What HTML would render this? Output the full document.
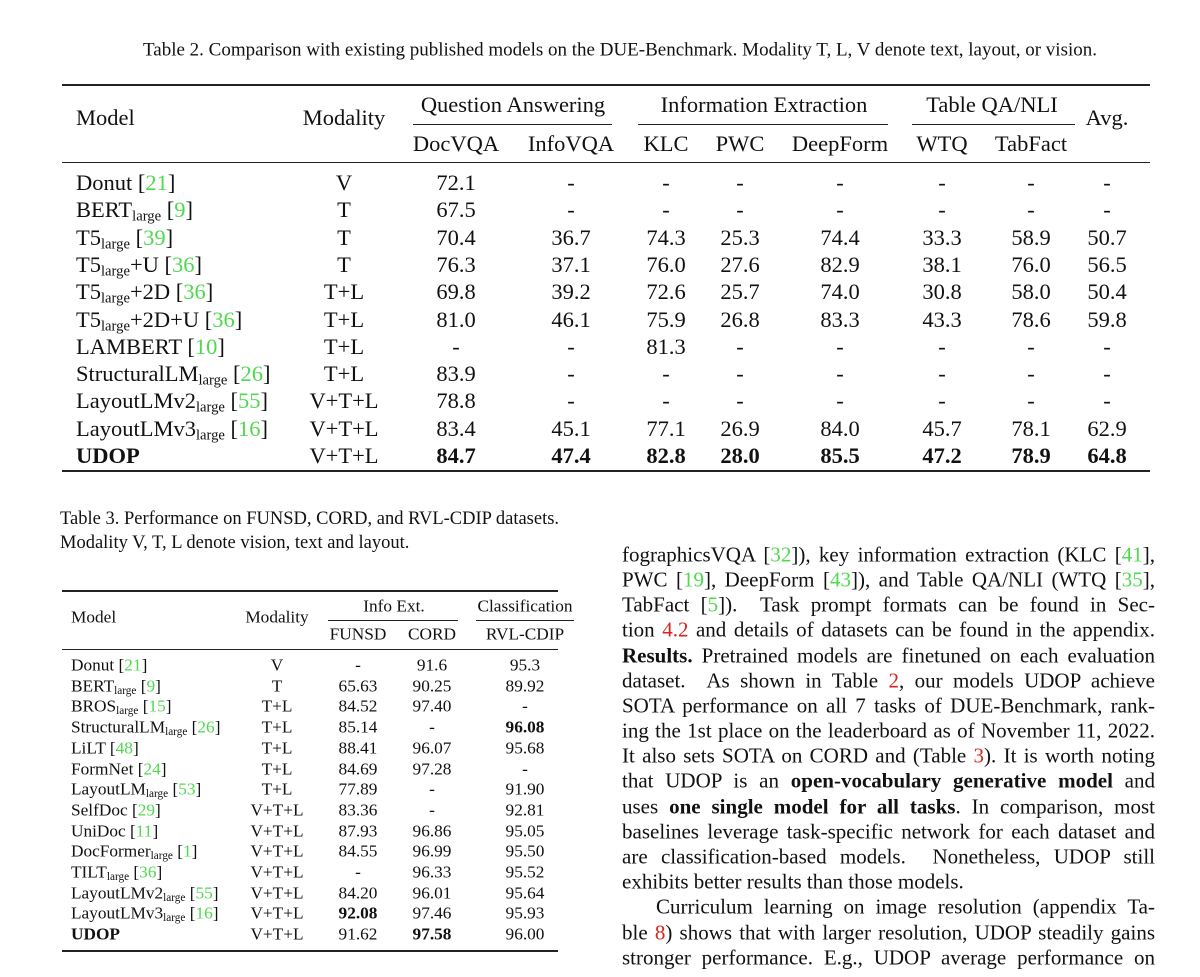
<!DOCTYPE html>
<html><head><meta charset="utf-8"><style>
body{margin:0;width:1200px;height:977px;background:#fff;position:relative;overflow:hidden;font-family:"Liberation Serif",serif;color:#111}
.a{position:absolute;white-space:nowrap;line-height:1}
.c{transform:translate(-50%,-50%)}
.l{transform:translateY(-50%)}
.t2{font-size:22.5px}
.t3{font-size:17.3px}
.g{color:#4fd94f}
.r{color:#d8241c}
sub{font-size:65%;vertical-align:-0.25em;line-height:0}
.rule{position:absolute;background:#222}
.tx{position:absolute;left:622px;width:533px;font-size:21px;line-height:1;text-align:justify;text-align-last:justify;white-space:nowrap;transform:translateY(-50%)}
b{font-weight:bold}
</style></head><body>

<div class="a c" style="left:620px;top:50px;font-size:19px">Table 2. Comparison with existing published models on the DUE-Benchmark. Modality T, L, V denote text, layout, or vision.</div>

<div class="rule" style="left:62px;top:84px;width:1088px;height:2px"></div>
<div class="rule" style="left:413px;top:124px;width:199px;height:1px"></div>
<div class="rule" style="left:638px;top:124px;width:250px;height:1px"></div>
<div class="rule" style="left:912px;top:124px;width:163px;height:1px"></div>
<div class="rule" style="left:62px;top:162px;width:1088px;height:1px"></div>
<div class="rule" style="left:62px;top:470px;width:1088px;height:2px"></div>

<div class="t2">
<div class="a l" style="left:76px;top:118px">Model</div>
<div class="a c" style="left:344px;top:118px">Modality</div>
<div class="a c" style="left:513px;top:105px">Question Answering</div>
<div class="a c" style="left:764px;top:105px">Information Extraction</div>
<div class="a c" style="left:992px;top:105px">Table QA/NLI</div>
<div class="a c" style="left:1107px;top:118px">Avg.</div>
<div class="a c" style="left:456px;top:144px">DocVQA</div>
<div class="a c" style="left:571px;top:144px">InfoVQA</div>
<div class="a c" style="left:666px;top:144px">KLC</div>
<div class="a c" style="left:740px;top:144px">PWC</div>
<div class="a c" style="left:840px;top:144px">DeepForm</div>
<div class="a c" style="left:942px;top:144px">WTQ</div>
<div class="a c" style="left:1031px;top:144px">TabFact</div>
</div>

<div class="t2" id="t2body"></div>

<div class="a l" style="left:60px;top:519px;font-size:18.5px">Table 3. Performance on FUNSD, CORD, and RVL-CDIP datasets.</div>
<div class="a l" style="left:60px;top:543px;font-size:18.5px">Modality V, T, L denote vision, text and layout.</div>

<div class="rule" style="left:62px;top:590px;width:496px;height:2px"></div>
<div class="rule" style="left:328px;top:620px;width:130px;height:1px"></div>
<div class="rule" style="left:476px;top:620px;width:98px;height:1px"></div>
<div class="rule" style="left:62px;top:649px;width:496px;height:1px"></div>
<div class="rule" style="left:62px;top:950px;width:496px;height:2px"></div>

<div class="t3">
<div class="a l" style="left:71px;top:617px">Model</div>
<div class="a c" style="left:277px;top:617px">Modality</div>
<div class="a c" style="left:394px;top:606px">Info Ext.</div>
<div class="a c" style="left:525px;top:606px">Classification</div>
<div class="a c" style="left:358px;top:634px">FUNSD</div>
<div class="a c" style="left:432px;top:634px">CORD</div>
<div class="a c" style="left:525px;top:634px">RVL-CDIP</div>
</div>
<div class="t3" id="t3body"></div>

<div class="tx" style="top:555px">fographicsVQA [<span class="g">32</span>]), key information extraction (KLC [<span class="g">41</span>],</div>
<div class="tx" style="top:580px">PWC [<span class="g">19</span>], DeepForm [<span class="g">43</span>]), and Table QA/NLI (WTQ [<span class="g">35</span>],</div>
<div class="tx" style="top:605px">TabFact [<span class="g">5</span>]). &nbsp;Task prompt formats can be found in Sec-</div>
<div class="tx" style="top:630px">tion <span class="r">4.2</span> and details of datasets can be found in the appendix.</div>
<div class="tx" style="top:656px"><b>Results.</b> Pretrained models are finetuned on each evaluation</div>
<div class="tx" style="top:681px">dataset. &nbsp;As shown in Table <span class="r">2</span>, our models UDOP achieve</div>
<div class="tx" style="top:706px">SOTA performance on all 7 tasks of DUE-Benchmark, rank-</div>
<div class="tx" style="top:731px">ing the 1st place on the leaderboard as of November 11, 2022.</div>
<div class="tx" style="top:756px">It also sets SOTA on CORD and (Table <span class="r">3</span>). It is worth noting</div>
<div class="tx" style="top:781px">that UDOP is an <b>open-vocabulary generative model</b> and</div>
<div class="tx" style="top:807px">uses <b>one single model for all tasks</b>. In comparison, most</div>
<div class="tx" style="top:832px">baselines leverage task-specific network for each dataset and</div>
<div class="tx" style="top:857px">are classification-based models. &nbsp;Nonetheless, UDOP still</div>
<div class="tx" style="top:882px;text-align-last:left">exhibits better results than those models.</div>
<div class="tx" style="top:907px;left:656px;width:499px">Curriculum learning on image resolution (appendix Ta-</div>
<div class="tx" style="top:933px">ble <span class="r">8</span>) shows that with larger resolution, UDOP steadily gains</div>
<div class="tx" style="top:958px">stronger performance. E.g., UDOP average performance on</div>

<script>
function g(s){return s.replace(/\[(\d+)\]/g,'[<span class="g">$1</span>]').replace(/_(\w+)/g,'<sub>$1</sub>');}
var r2=[
["Donut [21]","V","72.1","-","-","-","-","-","-","-"],
["BERT_large [9]","T","67.5","-","-","-","-","-","-","-"],
["T5_large [39]","T","70.4","36.7","74.3","25.3","74.4","33.3","58.9","50.7"],
["T5_large+U [36]","T","76.3","37.1","76.0","27.6","82.9","38.1","76.0","56.5"],
["T5_large+2D [36]","T+L","69.8","39.2","72.6","25.7","74.0","30.8","58.0","50.4"],
["T5_large+2D+U [36]","T+L","81.0","46.1","75.9","26.8","83.3","43.3","78.6","59.8"],
["LAMBERT [10]","T+L","-","-","81.3","-","-","-","-","-"],
["StructuralLM_large [26]","T+L","83.9","-","-","-","-","-","-","-"],
["LayoutLMv2_large [55]","V+T+L","78.8","-","-","-","-","-","-","-"],
["LayoutLMv3_large [16]","V+T+L","83.4","45.1","77.1","26.9","84.0","45.7","78.1","62.9"],
["<b>UDOP</b>","V+T+L","<b>84.7</b>","<b>47.4</b>","<b>82.8</b>","<b>28.0</b>","<b>85.5</b>","<b>47.2</b>","<b>78.9</b>","<b>64.8</b>"]];
var c2=[344,456,571,666,740,840,942,1031,1107],h="";
r2.forEach(function(r,i){var y=183+i*27.3;h+='<div class="a l" style="left:76px;top:'+y+'px">'+g(r[0])+'</div>';
for(var j=1;j<r.length;j++)h+='<div class="a c" style="left:'+c2[j-1]+'px;top:'+y+'px">'+r[j]+'</div>';});
document.getElementById('t2body').innerHTML=h;
var r3=[
["Donut [21]","V","-","91.6","95.3"],
["BERT_large [9]","T","65.63","90.25","89.92"],
["BROS_large [15]","T+L","84.52","97.40","-"],
["StructuralLM_large [26]","T+L","85.14","-","<b>96.08</b>"],
["LiLT [48]","T+L","88.41","96.07","95.68"],
["FormNet [24]","T+L","84.69","97.28","-"],
["LayoutLM_large [53]","T+L","77.89","-","91.90"],
["SelfDoc [29]","V+T+L","83.36","-","92.81"],
["UniDoc [11]","V+T+L","87.93","96.86","95.05"],
["DocFormer_large [1]","V+T+L","84.55","96.99","95.50"],
["TILT_large [36]","V+T+L","-","96.33","95.52"],
["LayoutLMv2_large [55]","V+T+L","84.20","96.01","95.64"],
["LayoutLMv3_large [16]","V+T+L","<b>92.08</b>","97.46","95.93"],
["<b>UDOP</b>","V+T+L","91.62","<b>97.58</b>","96.00"]];
var c3=[277,358,432,525];h="";
r3.forEach(function(r,i){var y=665+i*20.7;h+='<div class="a l" style="left:71px;top:'+y+'px">'+g(r[0])+'</div>';
for(var j=1;j<r.length;j++)h+='<div class="a c" style="left:'+c3[j-1]+'px;top:'+y+'px">'+r[j]+'</div>';});
document.getElementById('t3body').innerHTML=h;
</script>
</body></html>
